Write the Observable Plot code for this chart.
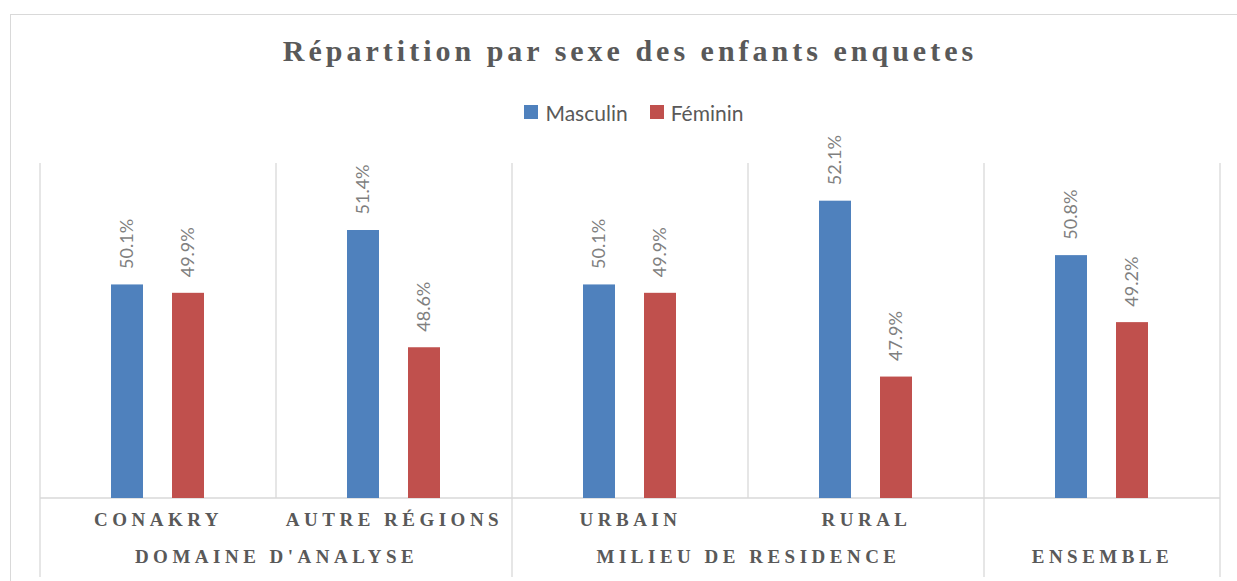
<!DOCTYPE html>
<html>
<head>
<meta charset="utf-8">
<script src="https://cdn.jsdelivr.net/npm/d3@7"></script>
<script src="https://cdn.jsdelivr.net/npm/@observablehq/plot@0.6"></script>
<style>
  html, body { margin: 0; padding: 0; background: #fff; overflow: hidden; }
  #wrap { position: relative; width: 1237px; height: 581px; overflow: hidden; background: #fff; }
  #border { position: absolute; left: 10px; top: 14px; width: 1400px; height: 800px;
            border-left: 1px solid #d9d9d9; border-top: 1px solid #d9d9d9; box-sizing: border-box; }
  #title { position: absolute; left: 0; width: 1260px; top: 36px; text-align: center;
           font-family: "Liberation Serif", serif; font-weight: bold; font-size: 30px;
           line-height: 30px; letter-spacing: 4px; color: #595959; white-space: nowrap; z-index: 2; }
  #legend { position: absolute; left: 0; width: 1268px; top: 99px; height: 26px;
            display: flex; justify-content: center; align-items: center;
            font-family: Lato, "Liberation Sans", sans-serif; font-size: 21px; color: #595959; z-index: 2; }
  #legend .item { display: flex; align-items: center; }
  #legend .item + .item { margin-left: 22px; }
  #legend .sw { width: 14px; height: 14px; margin-right: 7px; display: inline-block; }
  #chart { position: absolute; left: 0; top: 100px; z-index: 1; }
</style>
</head>
<body>
<div id="wrap">
  <div id="border"></div>
  <div id="title"></div>
  <div id="legend"></div>
  <div id="chart"></div>
</div>
<script>
// ---- data ----
const titleText = "Répartition par sexe des enfants enquetes";
const categories = ["Conakry", "Autre régions", "Urbain", "Rural", "Ensemble"];
const categoryLabels = ["CONAKRY", "AUTRE RÉGIONS", "URBAIN", "RURAL", ""];
const groupLabels = ["DOMAINE D'ANALYSE", "MILIEU DE RESIDENCE", "ENSEMBLE"];
const groupOfCategory = [0, 0, 1, 1, 2];
const series = ["Masculin", "Féminin"];
const seriesColors = ["#4f81bd", "#c0504d"];
const masculin = [50.1, 51.4, 50.1, 52.1, 50.8];
const feminin = [49.9, 48.6, 49.9, 47.9, 49.2];
const yMin = 45, yMax = 53;

// ---- title & legend ----
document.getElementById("title").textContent = titleText;
const legend = d3.select("#legend");
series.forEach((s, i) => {
  const it = legend.append("div").attr("class", "item");
  it.append("span").attr("class", "sw").style("background", seriesColors[i]);
  it.append("span").text(s);
});

// ---- rows ----
const rows = categories.flatMap((c, i) => [
  {cat: c, sex: series[0], value: masculin[i]},
  {cat: c, sex: series[1], value: feminin[i]}
]);
const catRows = categories.map((c, i) => ({cat: c, label: categoryLabels[i]}));
const groupRows = groupLabels.map((g, gi) => {
  const members = categories.filter((c, i) => groupOfCategory[i] === gi);
  return {cat: members[0], label: g, span: members.length};
});

const labelFont = {fontFamily: "Liberation Serif, serif", fontWeight: "bold", fontSize: 19, fill: "#595959"};

const chart = Plot.plot({
  width: 1237,
  height: 481,
  marginLeft: 40,
  marginRight: 17,
  marginTop: 63,
  marginBottom: 83,
  style: {background: "transparent", overflow: "visible"},
  fx: {domain: categories, padding: 0, axis: null},
  x: {domain: series, paddingInner: 0.475, paddingOuter: 1.164, axis: null},
  y: {domain: [yMin, yMax], axis: null},
  color: {domain: series, range: seriesColors},
  marks: [
    Plot.barY(rows, {fx: "cat", x: "sex", y1: yMin, y2: "value", fill: "sex"}),
    Plot.text(rows, {
      fx: "cat", x: "sex", y: "value",
      text: d => d.value.toFixed(1) + "%",
      rotate: -90, textAnchor: "start", dy: -16,
      fill: "#7f7f7f", fontSize: 18, fontFamily: "Lato, Liberation Sans, sans-serif"
    }),
    Plot.text(catRows, {fx: "cat", text: "label", frameAnchor: "bottom", dy: 27, ...labelFont}),
    Plot.text(groupRows.filter(g => g.span === 2), {fx: "cat", text: "label", frameAnchor: "bottom-right", textAnchor: "middle", dy: 64, ...labelFont}),
    Plot.text(groupRows.filter(g => g.span === 1), {fx: "cat", text: "label", frameAnchor: "bottom", dy: 64, ...labelFont})
  ]
});

// letter spacing for the serif axis labels
const textGroups = chart.querySelectorAll('g[aria-label="text"]');
textGroups.forEach((g, i) => {
  if (i >= 1) {
    g.querySelectorAll("text").forEach(t => t.setAttribute("letter-spacing", "4.5px"));
  }
});

// gridlines / separators drawn from the library's own scales
const fxS = chart.scale("fx");
const yS = chart.scale("y");
const fxApply = fxS.apply ? (v => fxS.apply(v)) : d3.scaleBand(fxS.domain, fxS.range).padding(0);
const bw = fxS.bandwidth;
const yTop = yS.apply(yMax), yBase = yS.apply(yMin);
const svg = d3.select(chart);
const grid = svg.insert("g", ":first-child").attr("stroke", "#d9d9d9").attr("fill", "none");
const lefts = categories.map(c => fxApply(c));
const bounds = lefts.concat([lefts[lefts.length - 1] + bw]);
const isGroupBoundary = bounds.map((b, i) =>
  i === 0 || i === categories.length || groupOfCategory[i] !== groupOfCategory[i - 1]);
bounds.forEach((bx, i) => {
  grid.append("line")
    .attr("x1", bx).attr("x2", bx)
    .attr("y1", yTop).attr("y2", isGroupBoundary[i] ? 477 : yBase)
    .attr("stroke-width", 1.3);
});
grid.append("line")
  .attr("x1", bounds[0]).attr("x2", bounds[bounds.length - 1])
  .attr("y1", yBase).attr("y2", yBase).attr("stroke-width", 1.7);

document.getElementById("chart").appendChild(chart);
</script>
</body>
</html>
